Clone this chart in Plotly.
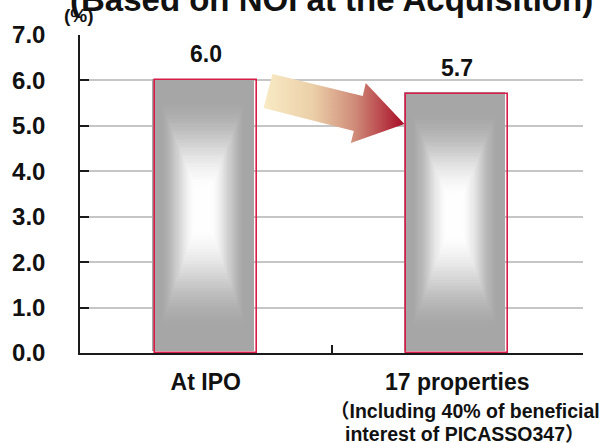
import base64
import plotly.graph_objects as go

# ---- data -------------------------------------------------------------
categories = ["At IPO", "17 properties"]
noi_yield = [6.0, 5.7]
sub_lines = [[], ["（Including 40% of beneficial", "interest of PICASSO347）"]]
y_tick_values = [0, 1, 2, 3, 4, 5, 6, 7]
title_text = "(Based on NOI at the Acquisition)"
unit_text = "(%)"

# ---- style ------------------------------------------------------------
FONT = "Liberation Sans, Arial, Noto Sans CJK JP, sans-serif"
W, H = 604, 443
M_L, M_R, M_T, M_B = 76, 21, 35, 90
BAR_W = 0.405          # bar width in category units
GRAD_STEPS = 48        # nested rectangles used for the shaded fill
GRAD_CENTER = 0.53     # vertical position of the bright core (fraction of bar)
SHADE_DX, SHADE_DY = -0.011, 0.035
EDGE_GREY = 166
SUB_TOP = 45           # px below the axis where the sub lines start
SUB_STEP = 23          # px between sub lines


def shade(u):
    """grey at the bar edge -> white in the core"""
    t = min(max((u - 0.14) / 0.72, 0.0), 1.0)
    t = t * t * (3 - 2 * t)
    c = round(EDGE_GREY + (254 - EDGE_GREY) * t)
    return f"rgb({c},{c},{c})"


fig = go.Figure()

# shaded bar bodies: concentric rectangles shrinking toward the core
for i in range(GRAD_STEPS):
    s = 1 - i / GRAD_STEPS
    u = 1 - s
    heights = [v * s for v in noi_yield]
    bases = [v * GRAD_CENTER * (1 - s) + SHADE_DY for v in noi_yield]
    fig.add_trace(go.Bar(
        x=categories, y=heights, base=bases,
        width=BAR_W * s, offset=-BAR_W * s / 2 + SHADE_DX,
        marker=dict(color=shade(u), line=dict(width=0)),
        hoverinfo="skip", showlegend=False,
    ))

# crimson frame of each bar
fig.add_trace(go.Bar(
    x=categories, y=noi_yield, width=BAR_W,
    marker=dict(color="rgba(0,0,0,0)", line=dict(color="#d81c48", width=1.6)),
    hoverinfo="skip", showlegend=False,
))

annotations = []
# value labels above the bars
for cat, v in zip(categories, noi_yield):
    annotations.append(dict(
        x=cat, y=v, xref="x", yref="y", text=f"<b>{v:.1f}</b>",
        showarrow=False, xanchor="center", yanchor="bottom", yshift=11,
        font=dict(family=FONT, size=23, color="#111111"),
    ))
# secondary lines under the category names
for cat, lines in zip(categories, sub_lines):
    for k, line in enumerate(lines):
        annotations.append(dict(
            x=cat, y=0, xref="x", yref="paper", text=f"<b>{line}</b>",
            showarrow=False, xanchor="center", yanchor="top",
            yshift=-(SUB_TOP + k * SUB_STEP), xshift=8,
            font=dict(family=FONT, size=19.5, color="#111111"),
        ))

plot_h = H - M_T - M_B
plot_w = W - M_L - M_R

annotations.append(dict(
    x=0.5, y=(H - M_B - 20) / plot_h, xref="paper", yref="paper",
    text=f"<b>{title_text}</b>", showarrow=False,
    xanchor="center", yanchor="bottom",
    font=dict(family=FONT, size=33, color="#111111"),
))
annotations.append(dict(
    x=(75 - M_L) / plot_w, y=(H - M_B - 16) / plot_h, xref="paper", yref="paper",
    text=f"<b>{unit_text}</b>", showarrow=False,
    xanchor="center", yanchor="middle",
    font=dict(family=FONT, size=19, color="#111111"),
))

# gradient block arrow between the two bars (drawn as inline SVG)
arrow_pts = [(270, 74), (361, 96), (364, 83), (403, 124),
             (349, 143), (352, 131), (261, 108)]
box = (256, 70, 410, 150)
pts = " ".join(f"{x},{y}" for x, y in arrow_pts)
svg = (
    f'<svg xmlns="http://www.w3.org/2000/svg" viewBox="{box[0]} {box[1]} '
    f'{box[2]-box[0]} {box[3]-box[1]}" preserveAspectRatio="none" '
    f'width="{box[2]-box[0]}" height="{box[3]-box[1]}">'
    '<defs><linearGradient id="g" gradientUnits="userSpaceOnUse" '
    'x1="262" y1="0" x2="403" y2="0">'
    '<stop offset="0" stop-color="#f8eac4"/>'
    '<stop offset="0.35" stop-color="#ebcfa8"/>'
    '<stop offset="0.65" stop-color="#cf8a78"/>'
    '<stop offset="1" stop-color="#a80c26"/>'
    '</linearGradient></defs>'
    f'<polygon points="{pts}" fill="url(#g)"/></svg>'
)
src = "data:image/svg+xml;base64," + base64.b64encode(svg.encode()).decode()

fig.update_layout(
    width=W, height=H,
    margin=dict(l=M_L, r=M_R, t=M_T, b=M_B, pad=0),
    paper_bgcolor="white", plot_bgcolor="white",
    barmode="overlay", bargap=0,
    showlegend=False,
    annotations=annotations,
    images=[dict(
        source=src, xref="paper", yref="paper",
        x=(box[0] - M_L) / plot_w, y=(H - M_B - box[1]) / plot_h,
        sizex=(box[2] - box[0]) / plot_w, sizey=(box[3] - box[1]) / plot_h,
        xanchor="left", yanchor="top", sizing="stretch", layer="above",
    )],
    xaxis=dict(
        type="category", range=[-0.5, 1.5],
        showline=True, linecolor="#1a1a1a", linewidth=2,
        ticks="inside", tickson="boundaries", ticklen=8,
        tickcolor="#1a1a1a", tickwidth=1.5,
        showgrid=False, zeroline=False,
        tickfont=dict(family=FONT, size=23, color="#111111"),
        ticklabelstandoff=7,
        tickvals=categories,
        ticktext=[f"<b>{c}</b>" for c in categories],
    ),
    yaxis=dict(
        range=[0, 7], tickvals=y_tick_values,
        ticktext=[f"<b>{v:.1f}</b>" for v in y_tick_values],
        showline=True, linecolor="#1a1a1a", linewidth=1.5,
        ticks="inside", ticklen=9, tickcolor="#1a1a1a", tickwidth=1.5,
        showgrid=True, gridcolor="#c6c6c6", gridwidth=1.5,
        zeroline=False,
        tickfont=dict(family=FONT, size=24, color="#111111"),
        ticklabelstandoff=28,
    ),
)

fig.write_html("out.html")
